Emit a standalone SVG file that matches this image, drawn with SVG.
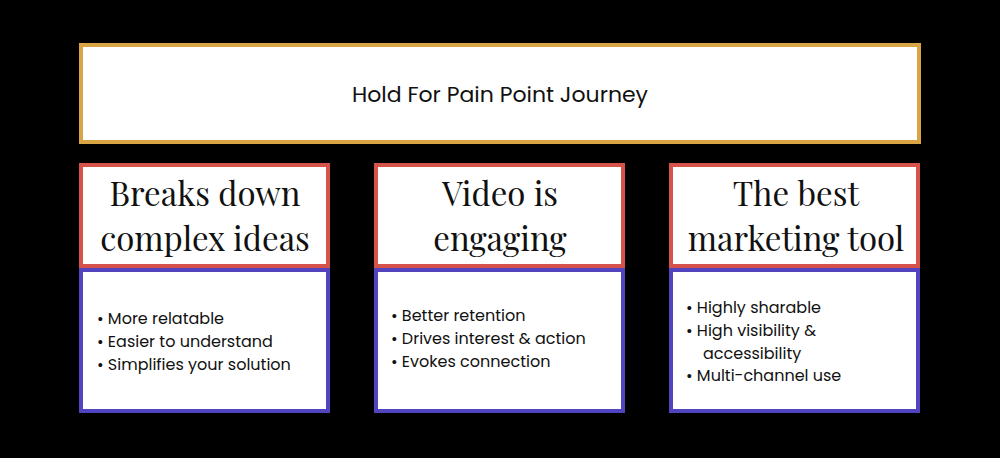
<svg xmlns="http://www.w3.org/2000/svg" width="1000" height="458" viewBox="0 0 1000 458">
<style>
.title{fill:#fff;stroke:#D9A443;stroke-width:4}
.head{fill:#fff;stroke:#D5534A;stroke-width:4}
.body{fill:#fff;stroke:#5144BE;stroke-width:4}
.t1{font-family:Poppins,"Open Sans","Noto Sans",sans-serif;font-size:22px;fill:#111;text-anchor:middle}
.h{font-family:"Playfair Display","Liberation Serif","DejaVu Serif",serif;font-size:33px;fill:#111;text-anchor:middle}
.b{font-family:Poppins,"Open Sans","Noto Sans",sans-serif;font-size:16px;fill:#111}
</style>
<rect width="1000" height="458" fill="#000"/>
<g id="title"><rect class="title" x="81" y="45" width="838" height="97"/><text class="t1" x="500" y="102">Hold For Pain Point Journey</text></g>
<g id="h1"><rect class="head" x="81" y="165" width="247" height="101"/><text class="h" x="205" y="206">Breaks down</text><text class="h" x="205" y="251">complex ideas</text></g>
<g id="h2"><rect class="head" x="376" y="165" width="247" height="101"/><text class="h" x="500" y="206">Video is</text><text class="h" x="500" y="251">engaging</text></g>
<g id="h3"><rect class="head" x="671" y="165" width="247" height="101"/><text class="h" x="796" y="206">The best</text><text class="h" x="796" y="251">marketing tool</text></g>
<g id="b1"><rect class="body" x="81" y="270" width="247" height="141"/>
<text class="b" x="97" y="324">•  More relatable</text><text class="b" x="97" y="347">•  Easier to understand</text><text class="b" x="97" y="370">•  Simplifies your solution</text></g>
<g id="b2"><rect class="body" x="376" y="270" width="247" height="141"/>
<text class="b" x="391" y="321">•  Better retention</text><text class="b" x="391" y="344">•  Drives interest &amp; action</text><text class="b" x="391" y="367">•  Evokes connection</text></g>
<g id="b3"><rect class="body" x="671" y="270" width="247" height="141"/>
<text class="b" x="686" y="313">•  Highly sharable</text><text class="b" x="686" y="336">•  High visibility &amp;</text><text class="b" x="703" y="359">accessibility</text><text class="b" x="686" y="381">•  Multi-channel use</text></g>
<g id="connectors"/>
</svg>
